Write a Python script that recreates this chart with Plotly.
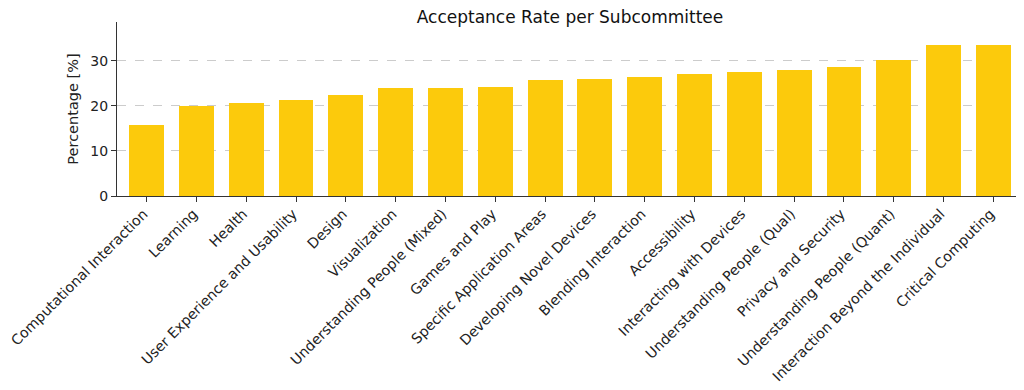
import plotly.graph_objects as go

# Subcommittees sorted by acceptance rate
subcommittees = [
    "Computational Interaction", "Learning", "Health", "User Experience and Usability",
    "Design", "Visualization", "Understanding People (Mixed)", "Games and Play",
    "Specific Application Areas", "Developing Novel Devices", "Blending Interaction",
    "Accessibility", "Interacting with Devices", "Understanding People (Qual)",
    "Privacy and Security", "Understanding People (Quant)",
    "Interaction Beyond the Individual", "Critical Computing",
]
acceptance_rate = [
    15.7, 20.0, 20.7, 21.2, 22.4, 23.9, 23.9, 24.2, 25.7, 25.9,
    26.5, 27.05, 27.5, 27.9, 28.6, 30.2, 33.55, 33.55,
]
y_ticks = [0, 10, 20, 30]

fig = go.Figure()

fig.add_trace(go.Bar(
    x=list(range(len(subcommittees))),
    y=acceptance_rate,
    width=0.7,
    marker=dict(color="#FCCA0C", line=dict(width=0)),
))

# page body has an 8px margin, so the figure is a bit smaller than the window
fig.update_layout(
    width=1016, height=382,
    margin=dict(l=109, r=1, t=14, b=194, autoexpand=False),
    plot_bgcolor="white", paper_bgcolor="white",
    font=dict(family="DejaVu Sans", size=15, color="#222222"),
    title=dict(text="Acceptance Rate per Subcommittee", x=562 / 1016, xanchor="center",
               y=1, yanchor="top", pad=dict(t=3),
               font=dict(size=17, color="#111111"), automargin=False),
    showlegend=False,
    bargap=0,
)

fig.update_xaxes(
    tickmode="array",
    tickvals=list(range(len(subcommittees))),
    ticktext=subcommittees,
    tickangle=-45,
    range=[-0.594, 17.594],
    showline=True, linecolor="#333333", linewidth=1.2,
    ticks="outside", ticklen=5, tickcolor="#333333",
    showgrid=False, zeroline=False,
    tickfont=dict(size=14.2),
    ticklabeloverflow="allow",
    ticklabelstandoff=-2,
    ticklabelshift=-3,
    automargin=False,
)

fig.update_yaxes(
    title=dict(text="Percentage [%]", font=dict(size=14.5), standoff=8),
    range=[0, 38.6],
    tickvals=y_ticks,
    showline=True, linecolor="#333333", linewidth=1.2,
    ticks="outside", ticklen=5, tickcolor="#333333",
    showgrid=True, gridcolor="#cccccc", griddash="dash", gridwidth=1,
    zeroline=False,
    tickfont=dict(size=14),
    automargin=False,
)

fig.write_html("out.html")
